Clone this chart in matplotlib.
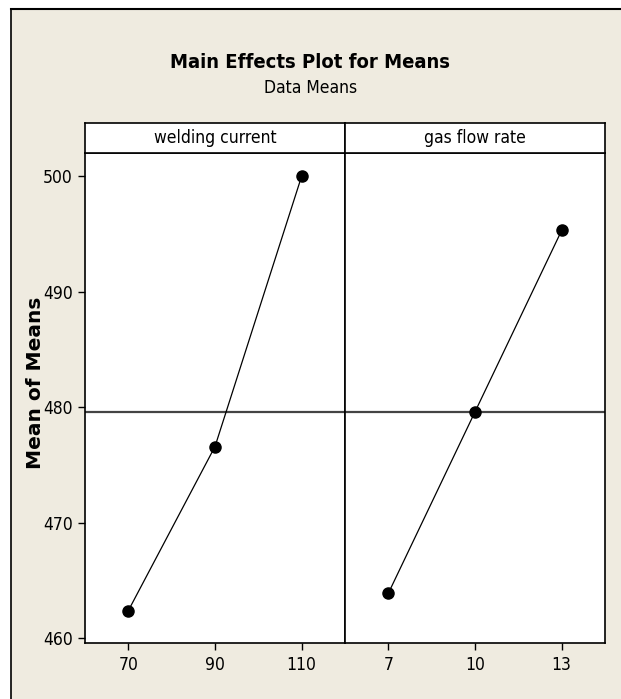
import matplotlib.pyplot as plt
from matplotlib.patches import Rectangle

plt.rcParams['font.family'] = ['DejaVu Sans']
plt.rcParams['font.stretch'] = 'condensed'

# data
current_levels = ['70', '90', '110']
current_means = [462.4, 476.6, 500.0]
gas_levels = ['7', '10', '13']
gas_means = [463.9, 479.6, 495.3]
grand_mean = 479.6
y_ticks = [460, 470, 480, 490, 500]

panels = [('welding current', current_levels, current_means),
          ('gas flow rate', gas_levels, gas_means)]

bg = '#efebe0'
fig = plt.figure(figsize=(6.21, 6.99), dpi=100, facecolor='white')

# beige frame with black top/left edge
fig.patches.append(Rectangle((11/621, 0), 1, 1 - 9/699, transform=fig.transFigure,
                             facecolor=bg, edgecolor='none', zorder=-2))
fig.lines.append(plt.Line2D([11/621, 1], [1 - 9/699, 1 - 9/699], transform=fig.transFigure,
                            color='black', lw=1.5))
fig.lines.append(plt.Line2D([11/621, 11/621], [0, 1 - 9/699], transform=fig.transFigure,
                            color='black', lw=1.2))

left0 = 85/621
pw = 260/621
bottom = (699 - 643)/699
height = (643 - 153)/699
strip_h = 30/699

for i, (name, levels, means) in enumerate(panels):
    ax = fig.add_axes([left0 + i*pw, bottom, pw, height])
    x = range(len(levels))
    ax.axhline(grand_mean, color='#444444', lw=1.6, zorder=1)
    ax.plot(x, means, color='black', lw=0.9, zorder=2)
    ax.plot(x, means, 'o', color='black', ms=8, zorder=3)
    ax.set_xlim(-0.5, 2.5)
    ax.set_ylim(459.6, 502.0)
    ax.set_xticks(list(x))
    ax.set_xticklabels(levels, fontsize=12.5)
    ax.set_yticks(y_ticks)
    ax.tick_params(length=5, width=1, labelsize=12.5, pad=4)
    for sp in ax.spines.values():
        sp.set_linewidth(1.2)
    if i == 0:
        ax.set_ylabel('Mean of Means', fontstretch='normal', fontweight='bold',
                      fontsize=14.5)
        ax.yaxis.set_label_coords(-40/260, 0.53)
    else:
        ax.tick_params(left=False, labelleft=False)

    sax = fig.add_axes([left0 + i*pw, bottom + height, pw, strip_h])
    sax.set_xticks([])
    sax.set_yticks([])
    for sp in sax.spines.values():
        sp.set_linewidth(1.2)
    sax.text(0.5, 0.5, name, ha='center', va='center', fontsize=12.5,
             transform=sax.transAxes)

fig.text(0.5, 1 - 62/699, 'Main Effects Plot for Means', ha='center', va='center',
         fontsize=14.5, fontweight='bold')
fig.text(0.5, 1 - 88/699, 'Data Means', ha='center', va='center', fontsize=12.5)

fig.savefig('out.png', dpi=100, facecolor='white')
